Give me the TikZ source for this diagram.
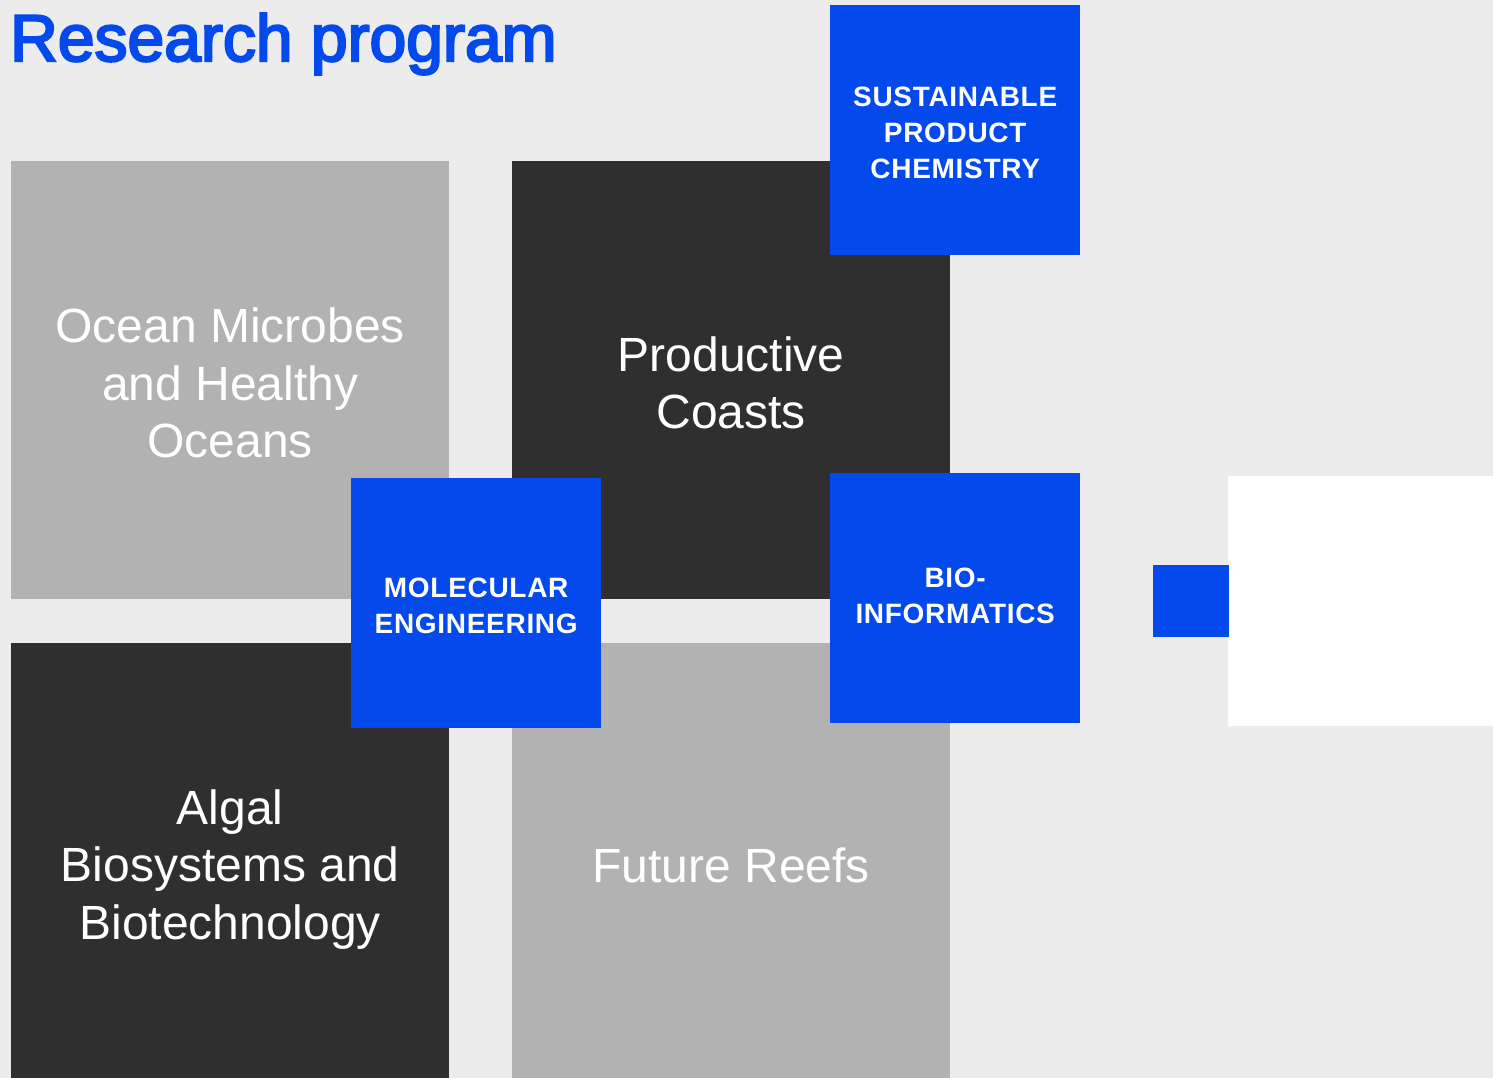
\documentclass[tikz,border=0pt]{standalone}
\usepackage{fontspec}
\setmainfont{Liberation Sans}
\newfontfamily\titlefont[FakeBold=3.5]{Liberation Sans}
\newfontfamily\capsfont[LetterSpace=2.5]{Liberation Sans Bold}
\definecolor{bgc}{HTML}{ECECEC}
\definecolor{lgc}{HTML}{B2B2B2}
\definecolor{dkc}{HTML}{2F2F2F}
\definecolor{blu}{HTML}{0449EC}
\tikzset{
  bigbox/.style={anchor=north west, inner sep=0pt, minimum width=438pt, minimum height=438pt},
  lightbox/.style={bigbox, fill=lgc},
  darkbox/.style={bigbox, fill=dkc},
  bigtext/.style={inner sep=0pt, text=white, align=center, font=\fontsize{48}{57.5}\selectfont},
  bluebox/.style={anchor=north west, inner sep=0pt, minimum width=250pt, minimum height=250pt, fill=blu},
  capstext/.style={inner sep=0pt, text=white, align=center, font=\capsfont\fontsize{28}{36}\selectfont},
}
\begin{document}
\begin{tikzpicture}[x=1pt,y=-1pt]
\useasboundingbox (0,0) rectangle (1493,1078);
\clip (0,0) rectangle (1493,1078);
\fill[bgc] (0,0) rectangle (1493,1078);
\node[anchor=base west, inner sep=0pt, text=blu, font=\titlefont\fontsize{66}{66}\selectfont] (title) at (10,61) {Research program};
\node[lightbox] (ocean) at (11,161) {};
\node[bigtext] (oceant) at ([yshift=-3pt]ocean.center) {Ocean Microbes\\and Healthy\\Oceans};
\node[darkbox] (coasts) at (512,161) {};
\node[bigtext] (coastst) at ([yshift=-2.5pt]coasts.center) {Productive\\Coasts};
\node[darkbox] (algal) at (11,643) {};
\node[bigtext] (algalt) at ([yshift=-7pt]algal.center) {Algal\\Biosystems and\\Biotechnology};
\node[lightbox] (reefs) at (512,643) {};
\node[bigtext] (reefst) at ([yshift=-3pt]reefs.center) {Future Reefs};
\node[bluebox] (spc) at (830,5) {};
\node[capstext] (spct) at ([yshift=-3pt]spc.center) {SUSTAINABLE\\PRODUCT\\CHEMISTRY};
\node[bluebox] (mol) at (351,478) {};
\node[capstext] (molt) at ([yshift=-3pt]mol.center) {MOLECULAR\\ENGINEERING};
\node[bluebox] (bio) at (830,473) {};
\node[capstext] (biot) at ([yshift=2.5pt]bio.center) {BIO-\\INFORMATICS};
\node[anchor=north west, inner sep=0pt, minimum width=265pt, minimum height=250pt, fill=white] (white) at (1228,476) {};
\node[anchor=north west, inner sep=0pt, minimum width=76pt, minimum height=72pt, fill=blu] (small) at (1153,565) {};
\end{tikzpicture}
\end{document}
